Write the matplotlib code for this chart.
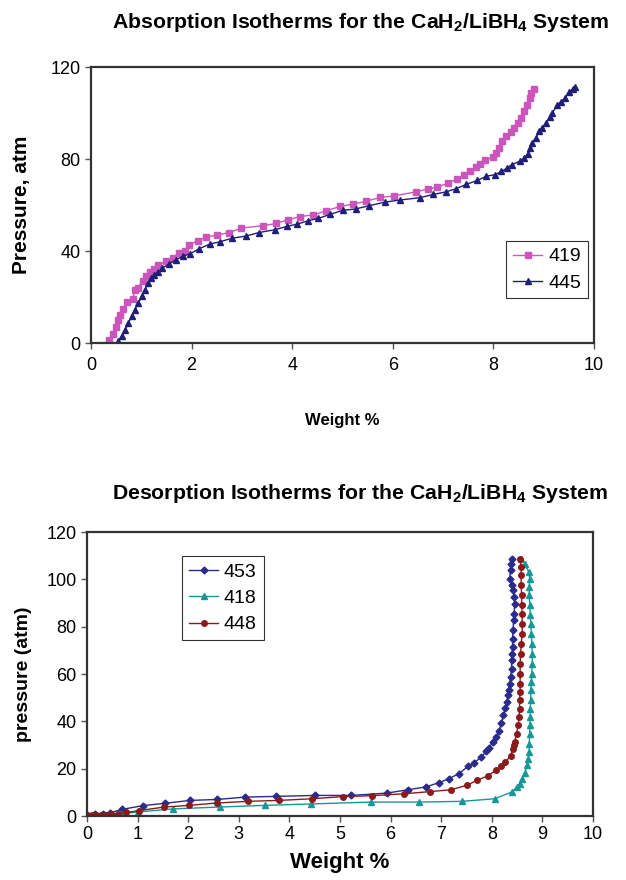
import matplotlib
matplotlib.use('Agg')
import matplotlib.pyplot as plt
from matplotlib import font_manager

# absorption data (weight %, pressure atm)
abs_419_x = [0.36, 0.43, 0.50, 0.54, 0.58, 0.64, 0.71, 0.83, 0.87, 0.93, 1.03, 1.10, 1.17, 1.25, 1.34,
             1.50, 1.62, 1.74, 1.87, 1.95, 2.12, 2.28, 2.51, 2.75, 2.98, 3.42, 3.68, 3.92, 4.15, 4.42,
             4.68, 4.95, 5.21, 5.46, 5.75, 6.02, 6.46, 6.70, 6.88, 7.09, 7.28, 7.41, 7.53, 7.66, 7.73,
             7.83, 7.99, 8.05, 8.11, 8.18, 8.26, 8.34, 8.41, 8.48, 8.54, 8.60, 8.66, 8.72, 8.75, 8.80]
abs_419_y = [1.4, 4, 7, 10, 12, 15, 18, 19, 23, 24, 27, 29, 31, 32, 34,
             35.5, 37, 39, 40, 42.6, 44.5, 46, 47, 48, 50, 51, 52, 53.6, 55, 55.7,
             57.5, 59.4, 60.4, 61.6, 63.3, 64, 65.7, 67, 67.8, 69.4, 71.4, 73, 74.6, 76.5, 77.8,
             79.4, 80.9, 82.6, 84.8, 87.7, 90, 91.6, 93.5, 95.7, 97.8, 100.7, 103.6, 106.5, 108.7, 110.6]

abs_445_x = [0.53, 0.61, 0.68, 0.74, 0.81, 0.87, 0.94, 1.01, 1.07, 1.14, 1.20, 1.25, 1.34, 1.42, 1.56,
             1.69, 1.82, 1.97, 2.15, 2.36, 2.56, 2.81, 3.08, 3.33, 3.66, 3.89, 4.10, 4.32, 4.52, 4.75,
             5.00, 5.26, 5.53, 5.85, 6.15, 6.54, 6.80, 7.05, 7.26, 7.46, 7.68, 7.86, 8.03, 8.16, 8.27,
             8.36, 8.52, 8.61, 8.68, 8.72, 8.77, 8.84, 8.91, 8.97, 9.04, 9.12, 9.17, 9.27, 9.35, 9.42,
             9.50, 9.58, 9.63]
abs_445_y = [0.7, 2.9, 5.5, 8.7, 11.6, 14.5, 17.4, 20.3, 23.2, 26, 28.3, 29.7, 31, 32.6, 34.5,
             36.2, 37.7, 38.8, 41, 43, 44, 45.6, 46.5, 48, 49.3, 50.7, 51.7, 53.2, 54.2, 55.9,
             57.7, 58.3, 59.7, 61.3, 62.2, 63.2, 64.6, 65.7, 67.1, 69, 70.7, 72.5, 73.2, 74.6, 76.1,
             77.5, 79, 80.4, 82.3, 84.8, 87, 89.1, 92, 93.5, 95.7, 98.3, 100, 103.6, 105, 106.5,
             109.1, 110.6, 111.3]

# desorption data
des_453_x = [0.00, 0.15, 0.32, 0.46, 0.69, 1.11, 1.55, 2.04, 2.57, 3.13, 3.74, 4.50, 5.22, 5.93, 6.34,
             6.69, 6.96, 7.15, 7.35, 7.53, 7.65, 7.79, 7.89, 7.94, 8.02, 8.09, 8.14, 8.19, 8.23, 8.27,
             8.30, 8.32, 8.33, 8.35, 8.37, 8.39, 8.39, 8.40, 8.41, 8.41, 8.42, 8.43, 8.44, 8.45, 8.44,
             8.42, 8.39, 8.35, 8.37, 8.37, 8.39]
des_453_y = [0.3, 0.7, 1, 1.4, 2.8, 4.4, 5.4, 6.6, 7, 8, 8.3, 8.7, 8.7, 9.7, 11.1,
             12.3, 14.1, 15.8, 17.9, 21, 22.5, 24.9, 27.3, 28.7, 31.3, 33.4, 35.8, 39.3, 42.5, 45.8,
             48.2, 51, 53.1, 55.9, 58.7, 62.3, 65.8, 68.6, 71.4, 74.9, 78.5, 82.7, 85.5, 89.7, 92.5,
             95.4, 97.5, 100.3, 103.8, 106.6, 108.7]

des_418_x = [0.12, 0.25, 0.48, 0.68, 1.00, 1.69, 2.62, 3.52, 4.42, 5.61, 6.57, 7.41, 8.06, 8.39, 8.50,
             8.55, 8.60, 8.65, 8.70, 8.72, 8.74, 8.74, 8.75, 8.75, 8.76, 8.76, 8.77, 8.77, 8.78, 8.79,
             8.80, 8.80, 8.79, 8.78, 8.77, 8.76, 8.75, 8.74, 8.74, 8.75, 8.73, 8.65, 8.58]
des_418_y = [0, 0, 0.3, 1, 1.7, 3, 3.8, 4.5, 5.1, 5.9, 5.9, 6.2, 7.3, 10.1, 12.3,
             13.7, 15.8, 18.2, 21.4, 24.2, 27, 30.6, 34.8, 38.3, 41.8, 45.4, 48.9, 53.1, 56.6, 60.1,
             64.4, 68.6, 72.8, 77, 81.3, 84.8, 89, 93.2, 96.8, 100.3, 103.1, 106.6, 108.7]

des_448_x = [0.00, 0.09, 0.18, 0.28, 0.38, 0.48, 0.61, 0.78, 1.03, 1.53, 2.02, 2.56, 3.18, 3.79, 4.45,
             5.05, 5.64, 6.26, 6.77, 7.19, 7.51, 7.71, 7.92, 8.08, 8.19, 8.27, 8.37, 8.42, 8.43, 8.45,
             8.49, 8.52, 8.54, 8.55, 8.55, 8.56, 8.56, 8.56, 8.56, 8.57, 8.58, 8.60, 8.60, 8.60, 8.59,
             8.59, 8.58, 8.58, 8.58, 8.56]
des_448_y = [0.3, 0.3, 0.4, 0.6, 0.6, 0.7, 1, 1.5, 2.3, 3.8, 4.5, 5.5, 6.2, 6.6, 7.3,
             8.2, 8.6, 9.4, 10.3, 11.1, 13, 15.1, 17, 19.3, 21, 22.8, 25.5, 28.5, 29.9, 31.3,
             34.8, 38.3, 41.8, 45.4, 48.9, 52.4, 55.9, 60.1, 64.4, 68.6, 72.8, 77, 81.3, 85.5, 89,
             93.2, 97.5, 101.7, 105.2, 108.7]

names = [f.name for f in font_manager.fontManager.ttflist]
title_font = 'Liberation Sans Narrow' if 'Liberation Sans Narrow' in names else 'Liberation Sans'

plt.rcParams['font.family'] = ['Liberation Sans', 'DejaVu Sans']
plt.rcParams['mathtext.fontset'] = 'custom'
plt.rcParams['mathtext.rm'] = title_font + ':bold'
plt.rcParams['mathtext.it'] = title_font + ':bold'
plt.rcParams['mathtext.bf'] = title_font + ':bold'

fig = plt.figure(figsize=(6.26, 8.8), dpi=100)
frame_col = '#333333'

# absorption
ax1 = fig.add_axes([0.1454, 0.6102, 0.8035, 0.3136])
ax1.plot(abs_419_x, abs_419_y, color='#CC55BB', marker='s', markersize=4.5, lw=1, label='419')
ax1.plot(abs_445_x, abs_445_y, color='#1F1F78', marker='^', markersize=5, lw=1, label='445')
ax1.set_xlim(0, 10)
ax1.set_ylim(0, 120)
ax1.set_xticks(range(0, 11, 2))
ax1.set_yticks([0, 40, 80, 120])
ax1.tick_params(labelsize=13, direction='out', length=4, width=1, color='#555555')
ax1.tick_params(axis='x', pad=6)
ax1.set_xlabel('Weight %', fontsize=12, fontweight='bold', labelpad=28)
ax1.set_ylabel('Pressure, atm', fontsize=15, fontweight='bold', labelpad=14)
for s in ax1.spines.values():
    s.set_linewidth(1.6)
    s.set_color(frame_col)
ax1.set_title(r'Absorption Isotherms for the CaH$_2$/LiBH$_4$ System', fontsize=15.3,
              fontweight='bold', family=title_font, pad=28, x=0.535)
leg = ax1.legend(loc='upper right', bbox_to_anchor=(0.988, 0.37), fontsize=14, fancybox=False,
                 edgecolor='#333333', framealpha=1, handlelength=1.5, borderaxespad=0, borderpad=0.35,
                 labelspacing=0.45, handletextpad=0.3)
leg.get_frame().set_linewidth(0.8)

# desorption
ax2 = fig.add_axes([0.139, 0.0727, 0.8083, 0.3227])
ax2.plot(des_453_x, des_453_y, color='#2B2B8C', marker='D', markersize=3.5, lw=1, label='453')
ax2.plot(des_418_x, des_418_y, color='#179797', marker='^', markersize=5, lw=1, label='418')
ax2.plot(des_448_x, des_448_y, color='#8B1A1A', marker='o', markersize=4, lw=1, label='448')
ax2.set_xlim(0, 10)
ax2.set_ylim(0, 120)
ax2.set_xticks(range(0, 11))
ax2.set_yticks(range(0, 121, 20))
ax2.tick_params(labelsize=13, direction='out', length=4, width=1, color='#555555')
ax2.set_xlabel('Weight %', fontsize=16, fontweight='bold', labelpad=6)
ax2.set_ylabel('pressure (atm)', fontsize=14, fontweight='bold', labelpad=10)
for s in ax2.spines.values():
    s.set_linewidth(1.6)
    s.set_color(frame_col)
ax2.set_title(r'Desorption Isotherms for the CaH$_2$/LiBH$_4$ System', fontsize=15.3,
              fontweight='bold', family=title_font, pad=24, x=0.54)
leg2 = ax2.legend(loc='upper left', bbox_to_anchor=(0.188, 0.915), fontsize=14, fancybox=False,
                  edgecolor='#333333', framealpha=1, handlelength=1.5, borderaxespad=0, borderpad=0.35,
                  labelspacing=0.45, handletextpad=0.3)
leg2.get_frame().set_linewidth(0.8)

fig.savefig('out.png', dpi=100)
